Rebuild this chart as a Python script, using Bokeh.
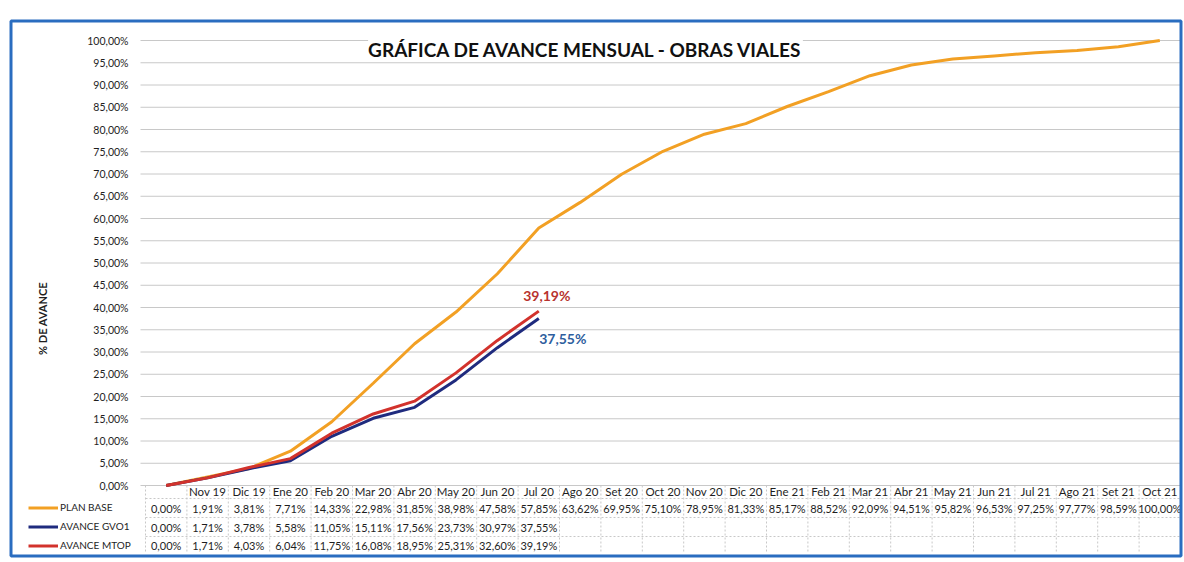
import math
from bokeh.plotting import figure
from bokeh.models import Range1d, Legend, LegendItem
from bokeh.core.properties import value
from bokeh.embed import file_html
from bokeh.resources import INLINE

# ---------------- data ----------------
months = ["", "Nov 19", "Dic 19", "Ene 20", "Feb 20", "Mar 20", "Abr 20", "May 20",
          "Jun 20", "Jul 20", "Ago 20", "Set 20", "Oct 20", "Nov 20", "Dic 20",
          "Ene 21", "Feb 21", "Mar 21", "Abr 21", "May 21", "Jun 21", "Jul 21",
          "Ago 21", "Set 21", "Oct 21"]
plan_base = [0.00, 1.91, 3.81, 7.71, 14.33, 22.98, 31.85, 38.98, 47.58, 57.85, 63.62,
             69.95, 75.10, 78.95, 81.33, 85.17, 88.52, 92.09, 94.51, 95.82, 96.53,
             97.25, 97.77, 98.59, 100.00]
avance_gvo1 = [0.00, 1.71, 3.78, 5.58, 11.05, 15.11, 17.56, 23.73, 30.97, 37.55]
avance_mtop = [0.00, 1.71, 4.03, 6.04, 11.75, 16.08, 18.95, 25.31, 32.60, 39.19]
y_ticks = [0, 5, 10, 15, 20, 25, 30, 35, 40, 45, 50, 55, 60, 65, 70, 75, 80, 85, 90, 95, 100]
series_names = ["PLAN BASE", "AVANCE GVO1", "AVANCE MTOP"]
title_text = "GRÁFICA DE AVANCE MENSUAL - OBRAS VIALES"
y_title = "% DE AVANCE"

# ---------------- styles / layout ----------------
FONT = "Lato"
ORANGE = "#F2A024"
NAVY = "#1F2B7E"
RED = "#D2322C"
GRID = "#C8C8C8"
TXT = "#1E1E1E"
BLUE_BORDER = "#2A6DC0"

W, H = 1184, 562
n = len(months)
PLOT_LEFT = 145           # canvas px where the category columns start
COL_W = 41.4              # canvas px per category column
ZERO_Y = 485              # canvas px of the 0 % line
PX_PER_PCT = 4.45

def px_x(cx):             # canvas px -> x units (category index)
    return -0.5 + (cx - PLOT_LEFT) / COL_W

def px_y(cy):             # canvas px (from top) -> y units (%)
    return (ZERO_Y - cy) / PX_PER_PCT

def pct(v):
    return ("%.2f" % v).replace(".", ",") + "%"

xs = list(range(n))

p = figure(width=W, height=H, output_backend="svg", toolbar_location=None,
           x_range=Range1d(px_x(0), px_x(W)), y_range=Range1d(px_y(H), px_y(0)),
           x_axis_location=None, y_axis_location=None,
           min_border_left=0, min_border_right=0, min_border_top=0, min_border_bottom=0,
           background_fill_color="white", border_fill_color="white")
p.outline_line_color = None
p.grid.grid_line_color = None

# horizontal value grid (0 .. 100 %)
p.segment(x0=[px_x(140)] * len(y_ticks), y0=y_ticks, x1=[n - 0.5] * len(y_ticks),
          y1=y_ticks, line_color=GRID, line_width=1)

# value tick labels
p.text(x=[px_x(128)] * len(y_ticks), y=y_ticks, text=[pct(v) for v in y_ticks],
       text_font=value(FONT), text_font_size="10.5px", text_color=TXT,
       text_align="right", text_baseline="middle")

# y-axis title
p.text(x=[px_x(42)], y=[px_y(318)], text=[y_title], angle=math.pi / 2,
       text_font=value(FONT), text_font_style="bold", text_font_size="11px",
       text_color=TXT, text_align="center", text_baseline="middle")

# ---- data table below the plot ----
header_y = px_y(491)
row_lines = [px_y(498), px_y(517), px_y(536)]
row_centers = [px_y(507.5), px_y(526.5), px_y(545)]
table_bottom = px_y(553)
vx = [i - 0.5 for i in range(n + 1)]
p.segment(x0=vx, y0=[0] * len(vx), x1=vx, y1=[table_bottom] * len(vx),
          line_color=GRID, line_width=1, line_dash="2 2")
p.segment(x0=[-0.5] * len(row_lines), y0=row_lines, x1=[n - 0.5] * len(row_lines),
          y1=row_lines, line_color=GRID, line_width=1, line_dash="2 2")
p.text(x=xs, y=[header_y] * n, text=months, text_font=value(FONT),
       text_font_size="11.5px", text_color=TXT, text_align="center",
       text_baseline="middle")
for vals, yc in zip([plan_base, avance_gvo1, avance_mtop], row_centers):
    p.text(x=xs[:len(vals)], y=[yc] * len(vals), text=[pct(v) for v in vals],
           text_font=value(FONT), text_font_size="11px", text_color=TXT,
           text_align="center", text_baseline="middle")

# ---- series ----
r_plan = p.line(xs, plan_base, line_color=ORANGE, line_width=3)
r_gvo = p.line(xs[:len(avance_gvo1)], avance_gvo1, line_color=NAVY, line_width=3)
r_mtop = p.line(xs[:len(avance_mtop)], avance_mtop, line_color=RED, line_width=3)

p.text(x=[xs[len(avance_mtop) - 1]], y=[avance_mtop[-1]], text=[pct(avance_mtop[-1])],
       x_offset=8, y_offset=-16, text_font=value(FONT), text_font_style="bold",
       text_font_size="14px", text_color="#B8332E", text_align="center",
       text_baseline="middle")
p.text(x=[xs[len(avance_gvo1) - 1]], y=[avance_gvo1[-1]], text=[pct(avance_gvo1[-1])],
       x_offset=24, y_offset=20, text_font=value(FONT), text_font_style="bold",
       text_font_size="14px", text_color="#2E5E9E", text_align="center",
       text_baseline="middle")

# chart title
p.text(x=[px_x(585)], y=[px_y(49)], text=[title_text], text_font=value(FONT),
       text_font_style="bold", text_font_size="19px", text_color="#111111",
       text_align="center", text_baseline="middle",
       background_fill_color="white", background_fill_alpha=1.0)

# row headers of the data table (legend keys)
legend = Legend(items=[LegendItem(label=series_names[0], renderers=[r_plan]),
                       LegendItem(label=series_names[1], renderers=[r_gvo]),
                       LegendItem(label=series_names[2], renderers=[r_mtop])],
                location=(28, H - 554.5), orientation="vertical",
                glyph_width=30, glyph_height=19, label_height=19, label_standoff=2,
                padding=0, spacing=0, margin=0,
                border_line_color=None, background_fill_alpha=0,
                label_text_font=FONT, label_text_font_size="10px",
                label_text_color=TXT)
p.add_layout(legend)

# chart-area border
p.quad(left=[px_x(10.5)], right=[px_x(1180.5)], top=[px_y(20.5)], bottom=[px_y(555.5)],
       fill_color=None, line_color=BLUE_BORDER, line_width=3)

open("out.html", "w").write(file_html(p, INLINE))
